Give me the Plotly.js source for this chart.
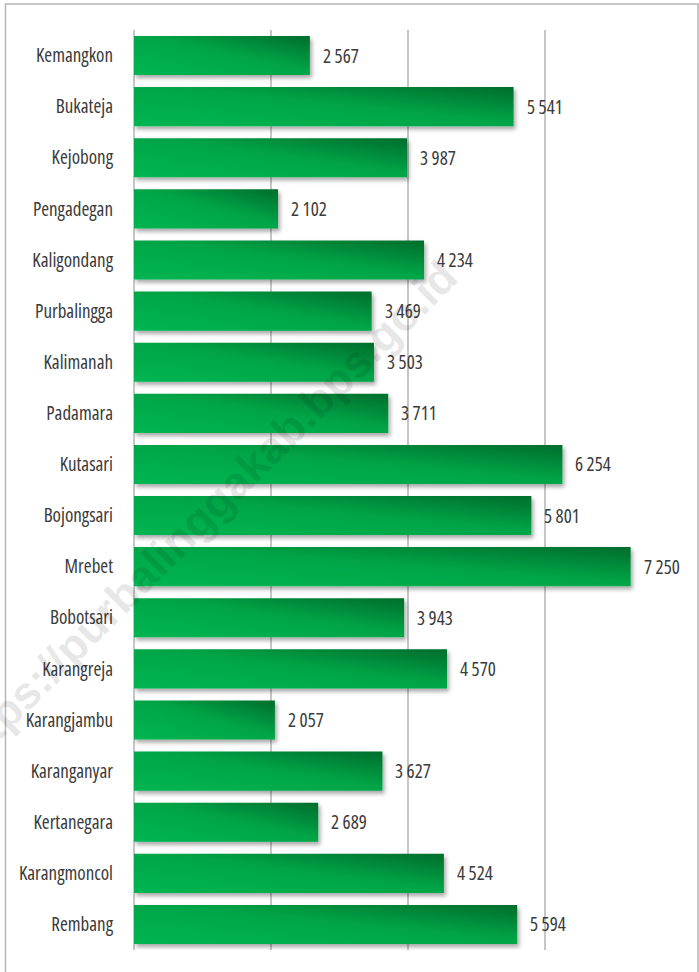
<!DOCTYPE html>
<html>
<head>
<meta charset="utf-8">
<script src="https://cdn.plot.ly/plotly-3.0.1.min.js"></script>
<style>
html,body{margin:0;padding:0;background:#fff;}
#chart{width:699px;height:972px;}
.ytick text{font-stretch:75% !important;}
.annotation-text{font-stretch:75% !important;}
</style>
</head>
<body>
<div id="chart"></div>
<script>
const categories = ["Kemangkon","Bukateja","Kejobong","Pengadegan","Kaligondang","Purbalingga","Kalimanah","Padamara","Kutasari","Bojongsari","Mrebet","Bobotsari","Karangreja","Karangjambu","Karanganyar","Kertanegara","Karangmoncol","Rembang"];
const values = [2567,5541,3987,2102,4234,3469,3503,3711,6254,5801,7250,3943,4570,2057,3627,2689,4524,5594];
const xTicks = [0,2000,4000,6000,8000];
const watermark = "https://purbalinggakab.bps.go.id";

const FONT = "'Open Sans','DejaVu Sans Condensed',sans-serif";
function fmt(v){ return String(v).replace(/\B(?=(\d{3})+(?!\d))/g, " "); }

const trace = {
  type: "bar",
  orientation: "h",
  y: categories,
  x: values,
  marker: {color: "#00a346", line: {width: 0}},
  hoverinfo: "none"
};

const annotations = categories.map((c, i) => ({
  x: values[i], y: c, xref: "x", yref: "y",
  text: fmt(values[i]), showarrow: false,
  xanchor: "left", yanchor: "middle", xshift: 11,
  font: {family: FONT, size: 19, color: "#3a3a3a"}
}));

annotations.push({
  xref: "paper", yref: "paper", x: 0.125, y: 0.472,
  xanchor: "center", yanchor: "middle",
  text: "<b>" + watermark + "</b>", showarrow: false, textangle: -45,
  font: {family: "'Liberation Sans','DejaVu Sans',sans-serif", size: 45, color: "rgba(0,0,0,0.11)"}
});

const layout = {
  width: 699, height: 972,
  margin: {l: 134, r: 17, t: 30, b: 22, pad: 0},
  paper_bgcolor: "#ffffff",
  plot_bgcolor: "#ffffff",
  showlegend: false,
  bargap: 0.235,
  xaxis: {
    range: [0, 8000], tickvals: xTicks, showticklabels: false,
    showgrid: true, gridcolor: "#c6c6c6", gridwidth: 2,
    zeroline: true, zerolinecolor: "#c6c6c6", zerolinewidth: 2,
    showline: false, fixedrange: true
  },
  yaxis: {
    type: "category", autorange: "reversed",
    showgrid: false, zeroline: false, showline: false,
    ticks: "", ticklabelstandoff: 20,
    tickfont: {family: FONT, size: 19, color: "#3a3a3a"},
    fixedrange: true
  },
  annotations: annotations,
  shapes: [{
    type: "rect", xref: "paper", yref: "paper",
    x0: -0.2345, x1: 1.0292, y0: -0.04, y1: 1.0283,
    line: {color: "#b5b5b5", width: 1.5}, fillcolor: "rgba(0,0,0,0)", layer: "below"
  }]
};

Plotly.newPlot("chart", [trace], layout, {staticPlot: true, displayModeBar: false}).then(gd => {
  const svg = gd.querySelector("svg.main-svg");
  const NS = "http://www.w3.org/2000/svg";
  let defs = svg.querySelector("defs");
  if (!defs) { defs = document.createElementNS(NS, "defs"); svg.insertBefore(defs, svg.firstChild); }
  const grad = document.createElementNS(NS, "linearGradient");
  grad.setAttribute("id", "barGrad");
  grad.setAttribute("x1", "0"); grad.setAttribute("y1", "1");
  grad.setAttribute("x2", "1"); grad.setAttribute("y2", "0");
  [["0", "#00b652"], ["0.55", "#00a446"], ["1", "#006d2c"]].forEach(([o, c]) => {
    const s = document.createElementNS(NS, "stop");
    s.setAttribute("offset", o); s.setAttribute("stop-color", c);
    grad.appendChild(s);
  });
  defs.appendChild(grad);
  const filt = document.createElementNS(NS, "filter");
  filt.setAttribute("id", "barShadow");
  filt.setAttribute("x", "-5%"); filt.setAttribute("y", "-20%");
  filt.setAttribute("width", "115%"); filt.setAttribute("height", "160%");
  const ds = document.createElementNS(NS, "feDropShadow");
  ds.setAttribute("dx", "2"); ds.setAttribute("dy", "3");
  ds.setAttribute("stdDeviation", "2");
  ds.setAttribute("flood-color", "#000"); ds.setAttribute("flood-opacity", "0.35");
  filt.appendChild(ds);
  defs.appendChild(filt);
  gd.querySelectorAll(".barlayer .point path").forEach(p => {
    p.style.fill = "url(#barGrad)";
    p.setAttribute("filter", "url(#barShadow)");
  });
});
</script>
</body>
</html>
